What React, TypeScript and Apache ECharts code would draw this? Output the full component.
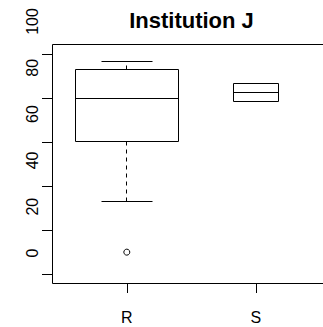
import React, { useEffect, useRef } from 'react';
import * as echarts from 'echarts';

// ---- data ----
const title = 'Institution J';
const categories = ['R', 'S'];
const lowerWhisker = [33, 78.3];
const lowerQuartile = [60, 78.3];
const medians = [79.5, 82.6];
const upperQuartile = [93, 86.7];
const upperWhisker = [96.5, 86.7];
const outlierGroups = ['R'];
const outlierValues = [10];
const yTickValues = [0, 20, 40, 60, 80, 100];
const yLabelValues = [0, 20, 40, 60, 80, 100];

// ---- styles / layout ----
const BOX_WIDTHS = [0.8, 0.345]; // in x-axis units (variable width boxes)
const FONT = '"Liberation Sans", Arial, Helvetica, sans-serif';
const INK = '#000';
const X_MIN = 0.42;
const X_MAX = 2.58;
const Y_FRAME_MIN = -4;
const Y_FRAME_MAX = 104;

const crisp = (v: number) => Math.round(v - 0.5) + 0.5;

export default function App() {
  const ref = useRef<HTMLDivElement>(null);

  useEffect(() => {
    document.body.style.margin = '0';
    document.body.style.overflow = 'hidden';
    document.documentElement.style.overflow = 'hidden';
    if (!ref.current) return;
    const chart = echarts.init(ref.current, undefined, { renderer: 'svg' });

    const boxData = categories.map((_, i) => [
      i + 1,
      lowerWhisker[i],
      lowerQuartile[i],
      medians[i],
      upperQuartile[i],
      upperWhisker[i],
      i,
    ]);

    const solid = { stroke: INK, lineWidth: 1, fill: 'none' };
    const dashed = { stroke: INK, lineWidth: 1, lineDash: [4, 4], fill: 'none' };

    const renderBox = (params: any, api: any) => {
      const x = api.value(0);
      const idx = api.value(6);
      const hw = BOX_WIDTHS[idx] / 2;
      const low = api.value(1);
      const q1 = api.value(2);
      const med = api.value(3);
      const q3 = api.value(4);
      const high = api.value(5);
      const pL = api.coord([x - hw, q3]);
      const pR = api.coord([x + hw, q1]);
      const cx = crisp(api.coord([x, 0])[0]);
      const sL = crisp(api.coord([x - hw / 2, 0])[0]);
      const sR = crisp(api.coord([x + hw / 2, 0])[0]);
      const yLow = crisp(api.coord([x, low])[1]);
      const yQ1 = crisp(pR[1]);
      const yMed = crisp(api.coord([x, med])[1]);
      const yQ3 = crisp(pL[1]);
      const yHigh = crisp(api.coord([x, high])[1]);
      const xL = crisp(pL[0]);
      const xR = crisp(pR[0]);
      const children: any[] = [];

      // plot frame (first item only)
      if (params.dataIndex === 0) {
        const tl = api.coord([X_MIN, Y_FRAME_MAX]);
        const br = api.coord([X_MAX, Y_FRAME_MIN]);
        const fx = crisp(tl[0]);
        const fTop = crisp(tl[1]);
        const fBot = crisp(br[1]);
        const fRight = crisp(br[0]);
        children.push({ type: 'line', shape: { x1: fx, y1: fTop, x2: fx, y2: fBot }, style: solid });
        children.push({ type: 'line', shape: { x1: fx, y1: fTop, x2: fRight, y2: fTop }, style: solid });
        children.push({ type: 'line', shape: { x1: fx, y1: fBot, x2: fRight, y2: fBot }, style: solid });
        children.push({ type: 'line', shape: { x1: fRight, y1: fTop, x2: fRight, y2: fBot }, style: solid });
      }

      if (yQ3 - yHigh > 1) {
        children.push({ type: 'line', shape: { x1: cx, y1: yQ3, x2: cx, y2: yHigh }, style: dashed });
      }
      if (yLow - yQ1 > 1) {
        children.push({ type: 'line', shape: { x1: cx, y1: yQ1, x2: cx, y2: yLow }, style: dashed });
      }
      children.push({ type: 'line', shape: { x1: sL, y1: yHigh, x2: sR, y2: yHigh }, style: solid });
      children.push({ type: 'line', shape: { x1: sL, y1: yLow, x2: sR, y2: yLow }, style: solid });
      children.push({
        type: 'rect',
        shape: { x: xL, y: yQ3, width: xR - xL, height: yQ1 - yQ3 },
        style: { stroke: INK, lineWidth: 1, fill: '#fff' },
      });
      children.push({ type: 'line', shape: { x1: xL, y1: yMed, x2: xR, y2: yMed }, style: solid });

      // outliers of this group
      outlierGroups.forEach((g, k) => {
        if (categories.indexOf(g) !== idx) return;
        const p = api.coord([x, outlierValues[k]]);
        children.push({
          type: 'circle',
          shape: { cx: p[0], cy: p[1], r: 3 },
          style: { stroke: INK, lineWidth: 1, fill: '#fff' },
        });
      });

      return { type: 'group', children };
    };

    const option: any = {
      animation: false,
      backgroundColor: '#fff',
      grid: [
        { left: 52, top: 21.5, width: 278.6, height: 261.5, show: false, containLabel: false, outerBoundsMode: 'none' },
      ],
      xAxis: [
        {
          type: 'value',
          min: X_MIN,
          max: X_MAX,
          axisLine: { show: false, onZero: false },
          splitLine: { show: false },
          axisTick: { show: true, customValues: [1, 2], length: 10, lineStyle: { color: INK, width: 1 } },
          axisLabel: {
            customValues: [1, 2],
            formatter: (v: number) => categories[Math.round(v) - 1] ?? '',
            fontSize: 16,
            color: INK,
            fontFamily: FONT,
            margin: 26,
          },
        },
      ],
      yAxis: [
        {
          // tick scale (data scale)
          type: 'value',
          position: 'left',
          min: Y_FRAME_MIN,
          max: 114.66,
          axisLine: { show: false, onZero: false },
          splitLine: { show: false },
          axisTick: { show: true, customValues: yTickValues, length: 10, lineStyle: { color: INK, width: 1 } },
          axisLabel: { show: false },
        },
        {
          // tick labels, placed as in the reference
          type: 'value',
          position: 'left',
          offset: 0,
          min: -12.96,
          max: 100,
          axisLine: { show: false, onZero: false },
          axisTick: { show: false },
          splitLine: { show: false },
          axisLabel: {
            customValues: yLabelValues,
            showMinLabel: true,
            showMaxLabel: true,
            rotate: 90,
            fontSize: 16,
            color: INK,
            fontFamily: FONT,
            margin: 12,
          },
        },
      ],
      graphic: [
        {
          type: 'text',
          x: 191.5,
          y: 20.5,
          style: {
            text: title,
            fontSize: 22,
            fontWeight: 'bold',
            fontFamily: FONT,
            fill: INK,
            textAlign: 'center',
            textVerticalAlign: 'middle',
          },
        },
      ],
      series: [
        {
          type: 'custom',
          xAxisIndex: 0,
          yAxisIndex: 0,
          clip: false,
          data: boxData,
          encode: { x: 0, y: [1, 2, 3, 4, 5] },
          renderItem: renderBox,
          silent: true,
        },
      ],
    };

    chart.setOption(option);
    return () => chart.dispose();
  }, []);

  return <div ref={ref} style={{ width: 345, height: 327 }} />;
}
